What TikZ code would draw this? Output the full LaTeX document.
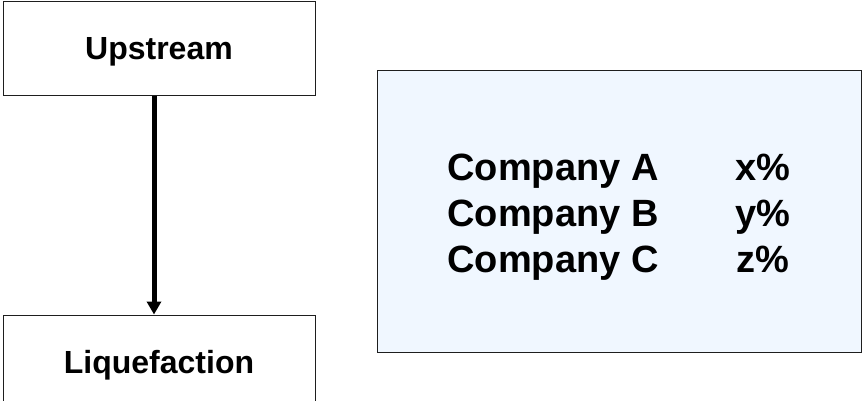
\documentclass[tikz,border=0pt]{standalone}
\usepackage{fontspec}
\setmainfont{Liberation Sans}
\usetikzlibrary{arrows.meta}
\definecolor{edge}{RGB}{30,30,30}
\definecolor{panel}{RGB}{240,247,255}
\begin{document}
\begin{tikzpicture}[x=1pt,y=-1pt,
  stage/.style={draw=edge, line width=1pt, fill=white, inner sep=0pt,
    minimum width=312pt, minimum height=94pt,
    font=\bfseries\fontsize{32}{38}\selectfont, text height=23pt, text depth=0pt},
  panelbox/.style={draw=edge, line width=1pt, fill=panel, inner sep=0pt,
    minimum width=484pt, minimum height=282pt},
  flow/.style={draw=black, line width=5pt,
    -{Triangle[width=14pt,length=13pt]}}]
  \useasboundingbox (0,0) rectangle (862,400);
  \clip (0,0) rectangle (862,400);
  % stages of the chain
  \node[stage] (up)  at (159,48)  {Upstream};
  \node[stage] (liq) at (159,362) {Liquefaction};
  \draw[flow] ([xshift=-5pt]up.south) -- ([xshift=-5pt]liq.north);
  % ownership shares
  \node[panelbox] (share) at (619,211) {};
  \node[inner sep=0pt, font=\bfseries\fontsize{38}{46}\selectfont] (owners) at (619,217)
    {\begin{tabular}{@{}c@{\hspace{77pt}}c@{}}
      Company A & x\% \\
      Company B & y\% \\
      Company C & z\% \\
    \end{tabular}};
\end{tikzpicture}
\end{document}
